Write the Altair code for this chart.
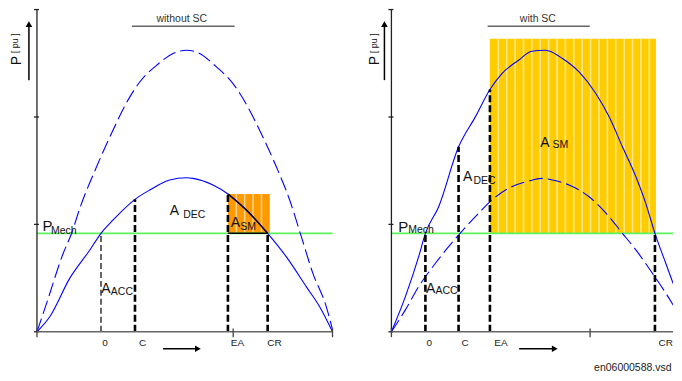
import altair as alt
import pandas as pd
import numpy as np

FONT = "Liberation Sans"
P_MECH = 0.917
Y_TICKS = [0, 1, 2, 3]
Y_TOP = 3.0
YDOM = [-0.381, 3.012]
PX_PER_DEG = 1.6444  # used only to convert small pixel offsets (ticks, stripes)

# ---------------- left panel: without SC ----------------
L_solid_angle = [0, 7.9, 20.1, 32.2, 39.0, 46.4, 59.7, 68.7, 80.8, 91.0, 95.0, 107.2, 116.3, 127.5, 140.5, 151.8, 164.0, 172.1, 180]
L_solid_p = [0, 0.142, 0.502, 0.762, 0.917, 1.041, 1.233, 1.320, 1.413, 1.434, 1.428, 1.366, 1.283, 1.134, 0.917, 0.700, 0.421, 0.235, 0]
L_dash_angle = [0, 5.9, 16.0, 21.1, 26.1, 36.3, 44.4, 56.6, 62.6, 72.8, 82.9, 91.0, 97.1, 109.3, 119.4, 129.5, 135.6, 145.8, 153.9, 161.0, 168.0, 176.2, 180]
L_dash_p = [0, 0.267, 0.731, 0.917, 1.150, 1.536, 1.815, 2.187, 2.326, 2.481, 2.590, 2.621, 2.605, 2.466, 2.311, 2.063, 1.877, 1.536, 1.227, 0.886, 0.546, 0.235, 0.02]
L_vline_x = [39.0, 59.7, 116.3, 140.5]
L_vline_top = [0.917, 1.233, 1.283, 0.917]
L_vline_thick = [False, True, True, True]
L_axis_labels = ["0", "C", "EA", "CR"]
L_axis_label_x = [41.4, 64.3, 122.1, 144.7]
L_xticks = [0, 119.5, 180]
L_rect = [116.3, 141.8, 1.283]

# ---------------- right panel: with SC ----------------
R_solid_angle = [0, 8.5, 16.6, 20.7, 28.8, 40.9, 51.1, 60.0, 67.3, 77.4, 85.5, 93.7, 96.1, 104.2, 114.3, 124.5, 132.6, 140.7, 148.9, 154.9, 160.5, 167.1, 173.1, 176.4]
R_solid_p = [0, 0.328, 0.700, 0.917, 1.165, 1.722, 2.001, 2.256, 2.404, 2.528, 2.612, 2.621, 2.614, 2.544, 2.419, 2.218, 2.001, 1.722, 1.443, 1.196, 0.917, 0.638, 0.390, 0.267]
R_dash_angle = [0, 8.5, 16.6, 26.8, 40.9, 53.1, 61.2, 71.3, 83.5, 91.6, 98.1, 108.2, 120.4, 132.6, 140.7, 148.9, 158.9, 167.1, 176.4]
R_dash_p = [0, 0.204, 0.421, 0.638, 0.901, 1.103, 1.227, 1.336, 1.403, 1.428, 1.413, 1.366, 1.257, 1.072, 0.917, 0.762, 0.546, 0.360, 0.127]
R_vline_x = [20.7, 40.9, 60.0, 160.5]
R_vline_top = [0.917, 1.722, 2.256, 0.917]
R_vline_thick = [True, True, True, True]
R_axis_labels = ["0", "C", "EA", "CR"]
R_axis_label_x = [23.1, 44.8, 66.7, 167.1]
R_xticks = [0, 121.0]
R_rect = [60.0, 161.1, 2.729]

PANELS = [
    dict(
        width=337, xdom=[-17.64, 187.3], xend=180, title="without SC", title_x=88.2, uline=[57.8, 120.4],
        solid=(L_solid_angle, L_solid_p), dash=(L_dash_angle, L_dash_p),
        vx=L_vline_x, vtop=L_vline_top, vthick=L_vline_thick,
        labels=L_axis_labels, label_x=L_axis_label_x, xticks=L_xticks,
        rect=L_rect, rect_color="#FF9900",
        big=[("P", 3.3, 0.934, 15), ("A", 80.9, 1.088, 14), ("A", 39.2, 0.363, 14), ("A", 118.0, 0.979, 14)],
        sub=[("Mech", 8.5, 0.911), ("DEC", 89.1, 1.064), ("ACC", 45.0, 0.339), ("SM", 123.8, 0.944)],
        rotP=(-9.9, 2.482), rotPU=(-11.6, 2.594), yarrow_x=-4.9, xarrow=[76.8, 98.0],
        outline=True, footer=None,
    ),
    dict(
        width=329, xdom=[-28.58, 171.5], xend=171.5, title="with SC", title_x=89.2, uline=[58.6, 120.8],
        solid=(R_solid_angle, R_solid_p), dash=(R_dash_angle, R_dash_p),
        vx=R_vline_x, vtop=R_vline_top, vthick=R_vline_thick,
        labels=R_axis_labels, label_x=R_axis_label_x, xticks=R_xticks,
        rect=R_rect, rect_color="#FFCC00",
        big=[("P", 4.1, 0.932, 15), ("A", 43.6, 1.407, 14), ("A", 21.1, 0.360, 14), ("A", 90.6, 1.717, 14)],
        sub=[("Mech", 10.2, 0.920), ("DEC", 50.0, 1.380), ("ACC", 26.8, 0.353), ("SM", 98.1, 1.715)],
        rotP=(-7.3, 2.482), rotPU=(-9.0, 2.594), yarrow_x=-4.26, xarrow=[77.8, 99.5],
        outline=False, footer=("en06000588.vsd", 170.6, -0.335),
    ),
]


def build_panel(P):
    xs = alt.Scale(domain=P["xdom"], nice=False, zero=False)
    ys = alt.Scale(domain=YDOM, nice=False, zero=False)

    def ex(f):
        return alt.X(f"{f}:Q", scale=xs, axis=None)

    def ey(f):
        return alt.Y(f"{f}:Q", scale=ys, axis=None)

    L = []
    # shaded area with light vertical stripes
    r0, r1, rtop = P["rect"]
    rect_df = pd.DataFrame({"x": [r0], "x2": [r1], "y": [P_MECH], "y2": [rtop]})
    L.append(alt.Chart(rect_df).mark_rect(color=P["rect_color"]).encode(
        x=ex("x"), x2="x2:Q", y=ey("y"), y2="y2:Q"))
    step = 8.4 / PX_PER_DEG
    stripe_df = pd.DataFrame({"x": np.arange(r0 + step, r1 - 0.8, step)})
    stripe_df["y"] = P_MECH
    stripe_df["y2"] = rtop
    L.append(alt.Chart(stripe_df).mark_rule(color="white", opacity=0.55, strokeWidth=1.6).encode(
        x=ex("x"), y=ey("y"), y2="y2:Q"))

    # P_mech line
    g_df = pd.DataFrame({"x": [0], "x2": [P["xend"]], "y": [P_MECH]})
    L.append(alt.Chart(g_df).mark_rule(color="#5CF25C", strokeWidth=1.8).encode(
        x=ex("x"), x2="x2:Q", y=ey("y")))

    # curves
    sdf = pd.DataFrame({"a": P["solid"][0], "p": P["solid"][1]})
    ddf = pd.DataFrame({"a": P["dash"][0], "p": P["dash"][1]})
    L.append(alt.Chart(sdf).mark_line(color="#0000FF", strokeWidth=1.1, interpolate="monotone", clip=True).encode(
        x=ex("a"), y=ey("p")))
    L.append(alt.Chart(ddf).mark_line(color="#0000FF", strokeWidth=1.1, strokeDash=[14, 5],
                                      interpolate="monotone", clip=True).encode(x=ex("a"), y=ey("p")))
    if P["outline"]:
        seg = sdf[(sdf.a >= r0) & (sdf.a <= P["vx"][3])]
        L.append(alt.Chart(seg).mark_line(color="#000033", strokeWidth=1.5, interpolate="monotone").encode(
            x=ex("a"), y=ey("p")))
        b_df = pd.DataFrame({"x": [r0], "x2": [P["vx"][3]], "y": [P_MECH]})
        L.append(alt.Chart(b_df).mark_rule(color="black", strokeWidth=1.5).encode(
            x=ex("x"), x2="x2:Q", y=ey("y")))

    # vertical dashed lines
    vdf = pd.DataFrame({"x": P["vx"], "top": P["vtop"], "thick": P["vthick"]})
    vdf["y0"] = 0.0
    thick = vdf[vdf.thick]
    thin = vdf[~vdf.thick]
    L.append(alt.Chart(thick).mark_rule(color="black", strokeWidth=2.6, strokeDash=[7, 3]).encode(
        x=ex("x"), y=ey("y0"), y2="top:Q"))
    if len(thin):
        L.append(alt.Chart(thin).mark_rule(color="black", strokeWidth=1.2, strokeDash=[6, 3]).encode(
            x=ex("x"), y=ey("y0"), y2="top:Q"))

    # axes
    ya = pd.DataFrame({"x": [0], "y": [0], "y2": [Y_TOP]})
    L.append(alt.Chart(ya).mark_rule(color="#222222", strokeWidth=1.3).encode(x=ex("x"), y=ey("y"), y2="y2:Q"))
    yt = pd.DataFrame({"y": Y_TICKS})
    yt["x"] = -3.0 / PX_PER_DEG
    yt["x2"] = 2.0 / PX_PER_DEG
    L.append(alt.Chart(yt).mark_rule(color="#222222", strokeWidth=1.3).encode(x=ex("x"), x2="x2:Q", y=ey("y")))
    xa = pd.DataFrame({"x": [0], "x2": [P["xend"]], "y": [0]})
    L.append(alt.Chart(xa).mark_rule(color="#666666", strokeWidth=1.6).encode(x=ex("x"), x2="x2:Q", y=ey("y")))
    xt = pd.DataFrame({"x": P["xticks"]})
    xt["y"] = -0.05
    xt["y2"] = 0.03
    L.append(alt.Chart(xt).mark_rule(color="#444444", strokeWidth=1.3).encode(x=ex("x"), y=ey("y"), y2="y2:Q"))

    # panel title with underline
    tdf = pd.DataFrame({"x": [P["title_x"]], "y": [2.916], "t": [P["title"]]})
    L.append(alt.Chart(tdf).mark_text(font=FONT, fontSize=10.5, color="#333333", align="center", baseline="middle").encode(
        x=ex("x"), y=ey("y"), text="t:N"))
    u_df = pd.DataFrame({"x": [P["uline"][0]], "x2": [P["uline"][1]], "y": [2.845]})
    L.append(alt.Chart(u_df).mark_rule(color="#666666", strokeWidth=1.5).encode(x=ex("x"), x2="x2:Q", y=ey("y")))

    # rotated axis title and arrow
    rp = pd.DataFrame({"x": [P["rotP"][0]], "y": [P["rotP"][1]], "t": ["P"]})
    L.append(alt.Chart(rp).mark_text(font=FONT, fontSize=14, angle=270, align="left", baseline="alphabetic", color="#111111").encode(
        x=ex("x"), y=ey("y"), text="t:N"))
    rpu = pd.DataFrame({"x": [P["rotPU"][0]], "y": [P["rotPU"][1]], "t": ["[ pu ]"]})
    L.append(alt.Chart(rpu).mark_text(font=FONT, fontSize=9, angle=270, align="left", baseline="alphabetic", color="#111111").encode(
        x=ex("x"), y=ey("y"), text="t:N"))
    arr = pd.DataFrame({"x": [P["yarrow_x"]], "y": [2.343], "y2": [2.85]})
    L.append(alt.Chart(arr).mark_rule(color="black", strokeWidth=1.5).encode(x=ex("x"), y=ey("y"), y2="y2:Q"))
    head = pd.DataFrame({"x": [P["yarrow_x"]], "y": [2.865]})
    L.append(alt.Chart(head).mark_point(shape="triangle-up", filled=True, color="black", size=45, opacity=1).encode(
        x=ex("x"), y=ey("y")))

    # area labels
    big = pd.DataFrame(P["big"], columns=["t", "x", "y", "fs"])
    L.append(alt.Chart(big).mark_text(font=FONT, align="left", baseline="alphabetic", color="#111111").encode(
        x=ex("x"), y=ey("y"), text="t:N", size=alt.Size("fs:Q", scale=None, legend=None)))
    sub = pd.DataFrame(P["sub"], columns=["t", "x", "y"])
    L.append(alt.Chart(sub).mark_text(font=FONT, fontSize=10.5, align="left", baseline="alphabetic", color="#111111").encode(
        x=ex("x"), y=ey("y"), text="t:N"))

    # x labels and arrow
    lab = pd.DataFrame({"x": P["label_x"], "t": P["labels"]})
    lab["y"] = -0.105
    L.append(alt.Chart(lab).mark_text(font=FONT, fontSize=10, align="center", baseline="middle", color="#222222").encode(
        x=ex("x"), y=ey("y"), text="t:N"))
    xa2 = pd.DataFrame({"x": [P["xarrow"][0]], "x2": [P["xarrow"][1]], "y": [-0.158]})
    L.append(alt.Chart(xa2).mark_rule(color="black", strokeWidth=1.5).encode(x=ex("x"), x2="x2:Q", y=ey("y")))
    xh = pd.DataFrame({"x": [P["xarrow"][1]], "y": [-0.158]})
    L.append(alt.Chart(xh).mark_point(shape="triangle-right", filled=True, color="black", size=45, opacity=1).encode(
        x=ex("x"), y=ey("y")))

    if P["footer"]:
        f = pd.DataFrame({"t": [P["footer"][0]], "x": [P["footer"][1]], "y": [P["footer"][2]]})
        L.append(alt.Chart(f).mark_text(font=FONT, fontSize=10.5, align="right", baseline="middle", color="#222222").encode(
            x=ex("x"), y=ey("y"), text="t:N"))

    return alt.layer(*L).properties(width=P["width"], height=365)


chart = alt.hconcat(*[build_panel(p) for p in PANELS], spacing=0).properties(
    padding=0, background="white"
).configure_view(stroke=None)

chart.save("out.html", embed_options={"renderer": "svg", "actions": False})
